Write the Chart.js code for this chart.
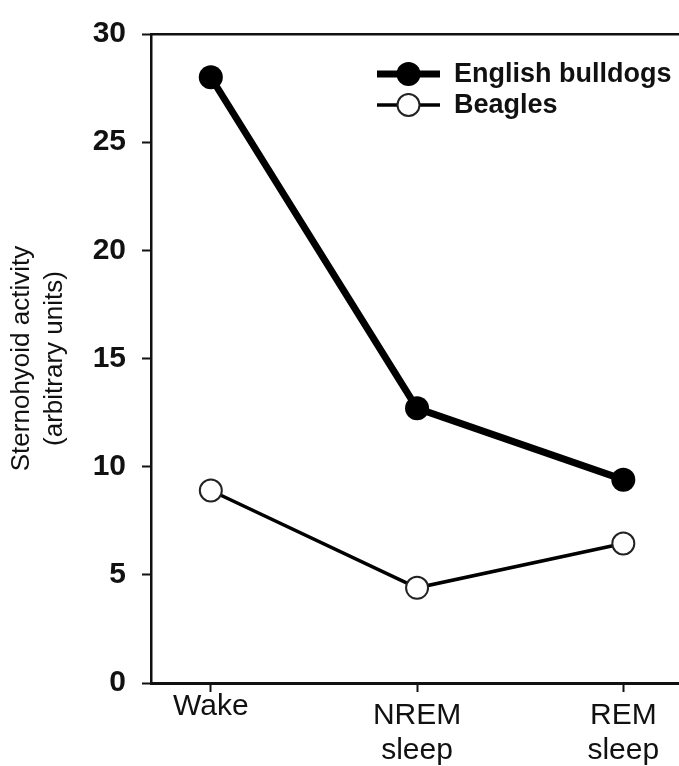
<!DOCTYPE html>
<html>
<head>
<meta charset="utf-8">
<script src="https://cdn.jsdelivr.net/npm/chart.js@4/dist/chart.umd.min.js"></script>
<style>
  html, body { margin: 0; padding: 0; background: #fff; }
  #wrap { width: 679px; height: 766px; position: relative; }
</style>
</head>
<body>
<div id="wrap"><canvas id="grafico"></canvas></div>
<script>
// Datos
const categorias = [['Wake'], ['NREM', 'sleep'], ['REM', 'sleep']];
const bulldogs = [28.0, 12.7, 9.4];
const beagles = [8.9, 4.4, 6.45];
const nombresSeries = ['English bulldogs', 'Beagles'];
const tituloEjeY = ['Sternohyoid activity', '(arbitrary units)'];
const ticksY = [0, 5, 10, 15, 20, 25, 30];

const fuente = '"Liberation Sans", Arial, Helvetica, sans-serif';

// Leyenda dentro del área: línea + marcador + texto
const leyendaInterna = {
    id: 'leyendaInterna',
    afterDraw(chart, args, opts) {
        const ctx = chart.ctx;
        ctx.save();
        chart.data.datasets.forEach((ds, i) => {
            const y = opts.y + i * opts.gap;
            ctx.strokeStyle = ds.borderColor;
            ctx.lineWidth = ds.borderWidth;
            ctx.beginPath();
            ctx.moveTo(opts.x, y);
            ctx.lineTo(opts.x + opts.lineLen, y);
            ctx.stroke();
            ctx.beginPath();
            ctx.arc(opts.x + opts.lineLen / 2, y, ds.pointRadius, 0, Math.PI * 2);
            ctx.fillStyle = ds.pointBackgroundColor;
            ctx.fill();
            if (ds.pointBorderWidth > 0) {
                ctx.lineWidth = ds.pointBorderWidth;
                ctx.strokeStyle = ds.pointBorderColor;
                ctx.stroke();
            }
            ctx.fillStyle = '#111';
            ctx.font = 'bold 27px ' + fuente;
            ctx.textBaseline = 'middle';
            ctx.textAlign = 'left';
            ctx.fillText(ds.label, opts.textX, y + 1);
        });
        ctx.restore();
    }
};

// sin relleno lateral para que el área llegue al borde derecho
function sinRellenoLateral(scale) {
    scale.paddingLeft = 0;
    scale.paddingRight = 0;
}

new Chart(document.getElementById('grafico'), {
    type: 'line',
    data: {
        datasets: [
            {
                label: nombresSeries[0],
                data: bulldogs.map((v, i) => ({ x: i, y: v })),
                borderColor: '#000',
                borderWidth: 7,
                pointRadius: 12,
                pointBackgroundColor: '#000',
                pointBorderColor: '#000',
                pointBorderWidth: 0,
                tension: 0
            },
            {
                label: nombresSeries[1],
                data: beagles.map((v, i) => ({ x: i, y: v })),
                borderColor: '#000',
                borderWidth: 3.5,
                pointRadius: 11,
                pointBackgroundColor: '#fff',
                pointBorderColor: '#222',
                pointBorderWidth: 2,
                tension: 0
            }
        ]
    },
    options: {
        responsive: true,
        maintainAspectRatio: false,
        animation: false,
        layout: { autoPadding: false, padding: { top: 23, left: 0, right: 0, bottom: 0 } },
        plugins: {
            legend: { display: false },
            tooltip: { enabled: false },
            leyendaInterna: { x: 377, y: 74, gap: 31, lineLen: 63, textX: 454 }
        },
        scales: {
            x: {
                type: 'linear',
                position: 'bottom',
                min: -0.29,
                max: 2.27,
                afterBuildTicks: (scale) => {
                    scale.ticks = categorias.map((c, i) => ({ value: i }));
                },
                afterFit: (scale) => {
                    scale.height = 83;
                    sinRellenoLateral(scale);
                },
                grid: {
                    drawOnChartArea: false,
                    drawTicks: true,
                    tickLength: 9,
                    tickWidth: 2,
                    tickColor: '#111'
                },
                border: { display: true, color: '#111', width: 3 },
                ticks: {
                    color: '#111',
                    padding: 6,
                    maxRotation: 0,
                    autoSkip: false,
                    font: (ctx) => ({
                        family: fuente,
                        size: 30,
                        lineHeight: (categorias[ctx.index] || []).length === 1 ? '17px' : '35px'
                    }),
                    callback: (v) => categorias[v] || ''
                }
            },
            arriba: {
                type: 'linear',
                position: 'top',
                axis: 'x',
                min: 0,
                max: 1,
                afterFit: sinRellenoLateral,
                grid: { drawOnChartArea: false, drawTicks: false },
                border: { display: true, color: '#111', width: 2.5 },
                ticks: { display: false }
            },
            y: {
                min: 0,
                max: 30,
                afterBuildTicks: (scale) => {
                    scale.ticks = ticksY.map(v => ({ value: v }));
                },
                afterFit: (scale) => { scale.width = 151; },
                grid: {
                    drawOnChartArea: false,
                    drawTicks: true,
                    tickLength: 9,
                    tickWidth: 2,
                    tickColor: '#111'
                },
                border: { display: true, color: '#111', width: 2.5 },
                ticks: {
                    color: '#111',
                    padding: 16,
                    font: { family: fuente, size: 30, weight: 'bold' }
                },
                title: {
                    display: true,
                    text: tituloEjeY,
                    color: '#111',
                    padding: { top: 5, bottom: 0 },
                    font: { family: fuente, size: 26, lineHeight: '33px' }
                }
            }
        }
    },
    plugins: [leyendaInterna]
});
</script>
</body>
</html>
